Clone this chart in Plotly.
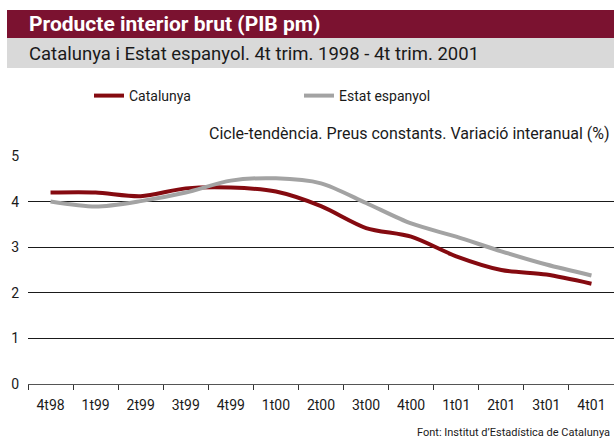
import plotly.graph_objects as go

trimestres = ["4t98", "1t99", "2t99", "3t99", "4t99", "1t00", "2t00",
              "3t00", "4t00", "1t01", "2t01", "3t01", "4t01"]
catalunya = [4.20, 4.20, 4.12, 4.29, 4.31, 4.22, 3.90, 3.42, 3.23, 2.80, 2.50, 2.40, 2.20]
estat = [4.00, 3.89, 4.01, 4.20, 4.46, 4.51, 4.40, 3.97, 3.52, 3.23, 2.91, 2.62, 2.38]

W, H = 614, 441
L, R, T, B = 28, 0, 156, 441 - 384
FONT = "Roboto"


def px(x):
    # x en píxels de la imatge -> coordenada paper
    return (x - L) / (W - L - R)


def py(y):
    return (H - B - y) / (H - B - T)


fig = go.Figure()

fig.add_trace(go.Scatter(
    x=trimestres, y=catalunya, name="Catalunya", mode="lines",
    line=dict(color="#850A10", width=4, shape="spline", smoothing=0.8),
))
fig.add_trace(go.Scatter(
    x=trimestres, y=estat, name="Estat espanyol", mode="lines",
    line=dict(color="#A3A3A3", width=4, shape="spline", smoothing=0.8),
))

# capçalera
fig.add_shape(type="rect", xref="paper", yref="paper",
              x0=px(7), x1=px(614), y0=py(38), y1=py(10),
              fillcolor="#7B1230", line_width=0, layer="below")
fig.add_shape(type="rect", xref="paper", yref="paper",
              x0=px(7), x1=px(614), y0=py(68), y1=py(38),
              fillcolor="#D9D9D9", line_width=0, layer="below")

fig.add_annotation(text="<b>Producte interior brut (PIB pm)</b>", xref="paper", yref="paper",
                   x=px(27), y=py(24), xanchor="left", yanchor="middle", showarrow=False,
                   font=dict(family=FONT, size=21, color="white"))
fig.add_annotation(text="Catalunya i Estat espanyol. 4t trim. 1998 - 4t trim. 2001",
                   xref="paper", yref="paper", x=px(27), y=py(54),
                   xanchor="left", yanchor="middle", showarrow=False,
                   font=dict(family=FONT, size=18.5, color="#1a1a1a"))
fig.add_annotation(text="Cicle-tendència. Preus constants. Variació interanual (%)",
                   xref="paper", yref="paper", x=px(612), y=py(133),
                   xanchor="right", yanchor="middle", showarrow=False,
                   font=dict(family=FONT, size=16, color="#1a1a1a"))
fig.add_annotation(text="Font: Institut d’Estadística de Catalunya",
                   xref="paper", yref="paper", x=px(612), y=py(432),
                   xanchor="right", yanchor="middle", showarrow=False,
                   font=dict(family=FONT, size=11, color="#1a1a1a"))

fig.update_layout(
    width=W, height=H,
    margin=dict(l=L, r=R, t=T, b=B),
    paper_bgcolor="white", plot_bgcolor="white",
    font=dict(family=FONT, size=14, color="#1a1a1a"),
    showlegend=True,
    legend=dict(
        orientation="h", x=px(89), y=py(96), xanchor="left", yanchor="middle",
        entrywidth=165, entrywidthmode="pixels",
        font=dict(family=FONT, size=14, color="#1a1a1a"),
        itemwidth=30, tracegroupgap=0,
    ),
    xaxis=dict(
        type="category", range=[-0.5, 12.5],
        tickson="boundaries", ticks="outside", ticklen=5, tickcolor="#333",
        showline=True, linecolor="#555", linewidth=1,
        showgrid=False, tickfont=dict(size=14), ticklabelstandoff=8,
        fixedrange=True,
    ),
    yaxis=dict(
        range=[0, 5], dtick=1, showgrid=True, gridcolor="#1a1a1a", gridwidth=1,
        zeroline=False, showline=False, ticks="",
        tickfont=dict(size=14), ticklabelstandoff=8, fixedrange=True,
    ),
)

# sense marge al body perquè la figura ocupi tota la finestra
fig.write_html("out.html", config={"displayModeBar": False},
               post_script="document.body.style.margin='0';")
